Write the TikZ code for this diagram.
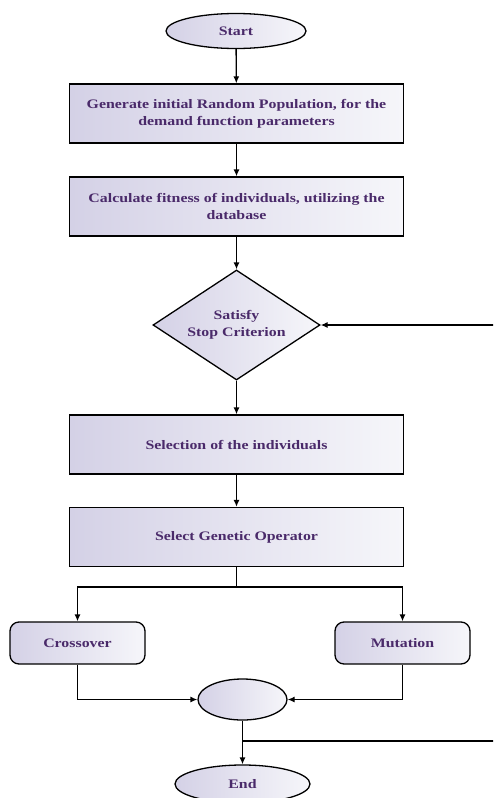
\documentclass[tikz,border=0pt]{standalone}
\usepackage{fontspec}
\setmainfont{Liberation Serif}
\newfontfamily\wideserif[FakeStretch=1.22]{Liberation Serif}
\usetikzlibrary{shapes.geometric,arrows.meta}
\definecolor{txt}{RGB}{74,42,106}
\definecolor{lav}{RGB}{212,209,230}
\definecolor{lite}{RGB}{246,246,250}
\tikzset{
  fillshade/.style={left color=lav, right color=lite},
  label text/.style={text=txt, font=\wideserif\bfseries\fontsize{13}{17}\selectfont, align=center, inner sep=0pt},
  basic/.style={draw=black, line width=1.3pt, fillshade, label text},
  procbox/.style={basic, rectangle, minimum width=334pt, minimum height=59pt},
  roundbox/.style={basic, rectangle, rounded corners=9pt, minimum width=135pt, minimum height=42pt},
  oval/.style={basic, ellipse},
  decision/.style={basic, diamond, minimum width=167pt, minimum height=110pt},
  conn/.style={line width=1.3pt, -{Latex[length=7pt,width=6pt]}},
  plain/.style={line width=1.3pt}
}
\begin{document}
\begin{tikzpicture}[x=1pt,y=-1pt]
\useasboundingbox (0,0) rectangle (493,798);
\clip (0,0) rectangle (493,798);
\node[oval, minimum width=140pt, minimum height=35pt] (start) at (236,31) {Start};
\node[procbox] (gen) at (236.5,113.5) {Generate initial Random Population, for the\\demand function parameters};
\node[procbox] (calc) at (236.5,206.5) {Calculate fitness of individuals, utilizing the\\database};
\node[decision] (stop) at (236.5,325) {};
\node[label text] (stoptext) at (stop.center) {Satisfy\\Stop Criterion};
\node[procbox] (sel) at (236.5,444.5) {Selection of the individuals};
\node[procbox] (op) at (236.5,537) {Select Genetic Operator};
\node[roundbox] (cross) at (77.5,643) {Crossover};
\node[roundbox] (mut) at (402.5,643) {Mutation};
\node[oval, minimum width=89pt, minimum height=41pt] (join) at (242.5,699.5) {};
\node[oval, minimum width=135pt, minimum height=38pt] (end) at (242.5,784) {End};
\coordinate (fbin) at (495,325);
\coordinate (fbout) at (495,741);
\coordinate (split) at (236.5,587);
\coordinate (tap) at (242.5,741);

\draw[conn] (start) -- (gen);
\draw[conn] (gen) -- (calc);
\draw[conn] (calc) -- (stop);
\draw[conn] (stop) -- (sel);
\draw[conn] (sel) -- (op);
\draw[conn] (fbin) -- (stop.east);
\draw[plain] (op.south) -- (split);
\draw[conn] (split) -| (cross.north);
\draw[conn] (split) -| (mut.north);
\draw[conn] (cross.south) |- (join.west);
\draw[conn] (mut.south) |- (join.east);
\draw[conn] (join) -- (end);
\draw[plain] (tap) -- (fbout);
\end{tikzpicture}
\end{document}
